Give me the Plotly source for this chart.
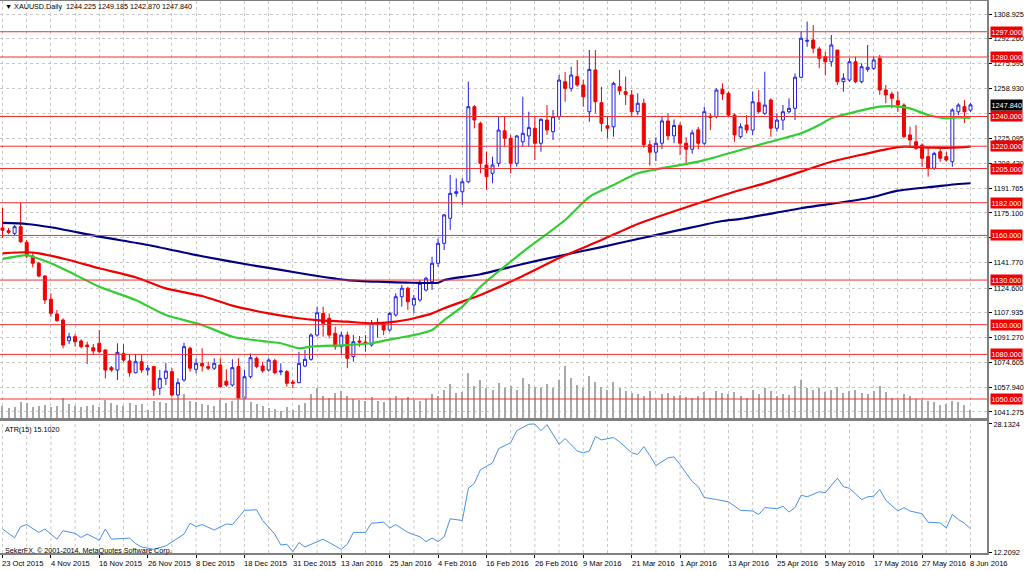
import plotly.graph_objects as go

# ---------------- DATA ----------------
date_labels = ["23 Oct 2015", "4 Nov 2015", "16 Nov 2015", "26 Nov 2015", "8 Dec 2015",
               "18 Dec 2015", "31 Dec 2015", "13 Jan 2016", "25 Jan 2016", "4 Feb 2016",
               "16 Feb 2016", "26 Feb 2016", "9 Mar 2016", "21 Mar 2016", "1 Apr 2016",
               "13 Apr 2016", "25 Apr 2016", "5 May 2016", "17 May 2016", "27 May 2016",
               "8 Jun 2016"]
label_bars = [0, 8, 16, 24, 32, 40, 48, 56, 64, 72, 80, 88, 96, 104, 112, 120, 128, 136, 144, 152, 160]

opens = [1165.0, 1163.2, 1161.4, 1165.9, 1155.4, 1146.2, 1141.3, 1132.7, 1117.1, 1107.2,
         1103.1, 1089.2, 1091.9, 1089.0, 1086.3, 1084.5, 1087.5, 1083.0, 1071.1, 1069.5,
         1080.7, 1075.6, 1067.7, 1075.1, 1069.5, 1071.8, 1057.2, 1063.9, 1068.4, 1052.7,
         1062.8, 1084.1, 1070.0, 1074.0, 1071.8, 1070.7, 1072.9, 1062.0, 1059.4, 1071.8,
         1050.5, 1065.0, 1077.4, 1072.2, 1069.5, 1075.8, 1068.2, 1068.4, 1061.4, 1061.0,
         1072.2, 1076.7, 1093.0, 1107.6, 1104.3, 1094.2, 1085.2, 1093.0, 1078.5, 1089.0,
         1088.3, 1086.3, 1100.4, 1100.9, 1096.4, 1106.5, 1118.8, 1124.5, 1113.2, 1116.6,
         1123.3, 1128.9, 1141.3, 1154.7, 1171.5, 1188.3, 1189.4, 1196.1, 1246.6, 1235.4,
         1207.4, 1201.8, 1208.5, 1230.4, 1225.3, 1208.5, 1223.0, 1226.9, 1232.1, 1222.0,
         1237.6, 1229.8, 1239.9, 1263.4, 1258.9, 1266.8, 1261.2, 1243.2, 1271.3, 1249.3,
         1233.8, 1233.1, 1260.0, 1256.7, 1254.5, 1243.2, 1248.9, 1221.0, 1216.0, 1222.0,
         1237.0, 1227.0, 1234.0, 1222.0, 1218.0, 1231.0, 1222.0, 1240.3, 1239.9, 1258.3,
         1255.6, 1241.0, 1226.4, 1234.3, 1230.9, 1249.3, 1242.1, 1251.1, 1232.1, 1237.6,
         1243.2, 1245.5, 1266.4, 1290.6, 1291.4, 1285.4, 1280.2, 1276.8, 1284.7, 1263.4,
         1264.5, 1276.8, 1263.4, 1271.7, 1272.4, 1279.1, 1257.8, 1255.1, 1250.6, 1247.7,
         1227.6, 1223.0, 1220.8, 1213.0, 1205.2, 1216.3, 1213.0, 1209.6, 1243.2, 1246.6,
         1244.225]
highs = [1178.5, 1165.0, 1167.0, 1182.0, 1157.0, 1148.0, 1142.3, 1133.4, 1121.1, 1109.9,
         1104.3, 1094.6, 1093.7, 1090.2, 1088.5, 1087.0, 1096.4, 1083.5, 1072.2, 1087.5,
         1086.8, 1080.1, 1080.1, 1080.1, 1072.9, 1072.3, 1069.5, 1074.4, 1070.7, 1063.9,
         1087.9, 1085.2, 1077.4, 1084.1, 1075.1, 1077.4, 1077.4, 1070.0, 1076.7, 1077.4,
         1069.5, 1080.7, 1078.5, 1075.1, 1077.4, 1077.0, 1074.0, 1069.5, 1062.8, 1081.8,
         1083.0, 1094.2, 1112.1, 1112.1, 1107.6, 1098.6, 1095.3, 1095.3, 1093.0, 1092.4,
         1093.0, 1103.1, 1104.3, 1102.0, 1108.7, 1121.1, 1126.7, 1125.5, 1119.9, 1130.0,
         1132.2, 1145.7, 1158.1, 1174.4, 1200.7, 1198.4, 1198.4, 1263.4, 1247.7, 1236.5,
         1216.3, 1213.0, 1239.9, 1239.9, 1227.6, 1227.6, 1253.3, 1243.2, 1239.9, 1238.8,
         1247.7, 1244.4, 1267.9, 1269.9, 1273.5, 1278.0, 1264.5, 1284.7, 1284.7, 1260.0,
         1239.9, 1263.4, 1271.3, 1266.8, 1257.8, 1255.6, 1252.0, 1224.0, 1226.0, 1240.0,
         1242.0, 1238.0, 1236.0, 1226.0, 1231.0, 1233.0, 1246.6, 1242.1, 1259.0, 1262.3,
         1256.7, 1242.1, 1235.4, 1241.0, 1256.7, 1257.8, 1270.1, 1252.2, 1242.1, 1247.7,
         1252.2, 1269.0, 1297.0, 1303.8, 1301.5, 1286.9, 1283.6, 1294.8, 1284.7, 1269.0,
         1279.1, 1280.2, 1275.8, 1288.1, 1280.2, 1281.4, 1261.2, 1256.7, 1256.7, 1248.9,
         1233.1, 1234.3, 1222.0, 1218.6, 1216.3, 1219.7, 1216.3, 1245.5, 1248.9, 1251.1,
         1249.185]
lows = [1158.3, 1161.0, 1160.3, 1155.0, 1144.8, 1138.6, 1131.8, 1113.9, 1105.4, 1102.0,
        1084.1, 1087.0, 1085.2, 1084.1, 1073.5, 1080.1, 1080.7, 1063.9, 1068.4, 1062.8,
        1075.1, 1065.0, 1067.3, 1067.7, 1066.0, 1052.0, 1052.7, 1059.4, 1051.6, 1044.8,
        1061.6, 1068.4, 1067.3, 1068.4, 1069.5, 1069.5, 1057.6, 1058.3, 1058.3, 1049.3,
        1049.8, 1063.9, 1070.7, 1067.7, 1068.4, 1066.6, 1066.0, 1058.3, 1057.2, 1060.6,
        1071.4, 1075.8, 1091.9, 1091.9, 1090.8, 1083.0, 1079.6, 1070.7, 1075.1, 1085.2,
        1081.8, 1085.2, 1091.2, 1093.0, 1095.3, 1105.4, 1112.1, 1109.9, 1107.6, 1115.4,
        1122.2, 1123.3, 1139.0, 1150.2, 1163.7, 1186.0, 1180.5, 1195.1, 1232.0, 1201.8,
        1190.6, 1195.1, 1206.2, 1219.7, 1201.8, 1206.2, 1219.7, 1219.7, 1210.7, 1216.3,
        1227.6, 1224.2, 1237.6, 1250.0, 1256.7, 1260.0, 1246.6, 1236.5, 1242.1, 1229.8,
        1225.3, 1226.4, 1254.5, 1247.7, 1239.9, 1241.0, 1219.0, 1207.0, 1210.0, 1218.0,
        1224.0, 1222.0, 1214.0, 1208.0, 1215.0, 1218.0, 1220.8, 1230.9, 1238.8, 1251.1,
        1239.9, 1223.0, 1225.3, 1228.7, 1227.6, 1242.1, 1241.0, 1226.4, 1229.8, 1230.9,
        1242.1, 1237.6, 1265.7, 1286.9, 1282.5, 1272.4, 1267.9, 1273.5, 1261.2, 1256.7,
        1263.4, 1262.3, 1262.3, 1270.1, 1271.3, 1254.5, 1248.9, 1245.5, 1243.2, 1225.3,
        1219.7, 1217.5, 1206.2, 1199.5, 1204.0, 1209.6, 1209.6, 1206.2, 1241.0, 1235.6,
        1242.870]
closes = [1163.5, 1162.1, 1165.9, 1155.8, 1146.2, 1141.3, 1132.7, 1116.6, 1107.6, 1102.7,
          1086.3, 1091.9, 1088.5, 1085.2, 1085.2, 1082.3, 1081.8, 1069.5, 1069.5, 1081.4,
          1076.2, 1067.7, 1075.1, 1069.5, 1070.7, 1056.1, 1063.9, 1068.8, 1052.7, 1061.0,
          1085.2, 1070.7, 1074.0, 1072.2, 1070.7, 1074.0, 1058.3, 1059.4, 1071.1, 1050.5,
          1065.0, 1077.8, 1071.8, 1069.0, 1076.2, 1067.7, 1068.8, 1060.6, 1060.6, 1074.0,
          1076.7, 1093.0, 1108.0, 1100.9, 1093.0, 1085.2, 1093.0, 1077.4, 1088.5, 1088.3,
          1087.5, 1100.9, 1101.1, 1096.4, 1107.6, 1118.8, 1124.5, 1115.4, 1117.7, 1127.8,
          1131.2, 1141.3, 1154.7, 1173.8, 1188.3, 1189.4, 1196.1, 1246.6, 1237.6, 1208.5,
          1199.5, 1207.4, 1230.9, 1225.3, 1208.5, 1226.9, 1228.7, 1232.5, 1222.0, 1238.1,
          1230.9, 1239.9, 1264.5, 1258.9, 1267.9, 1261.2, 1253.3, 1271.7, 1250.0, 1235.4,
          1232.1, 1262.3, 1257.3, 1254.9, 1243.2, 1248.9, 1221.0, 1216.0, 1222.0, 1237.0,
          1227.0, 1234.0, 1222.0, 1218.0, 1229.0, 1222.0, 1243.2, 1239.4, 1257.8, 1255.1,
          1241.0, 1227.6, 1233.1, 1230.9, 1249.9, 1243.2, 1247.7, 1232.1, 1237.6, 1243.2,
          1245.5, 1266.4, 1292.6, 1291.2, 1285.9, 1279.1, 1276.8, 1288.1, 1263.4, 1265.7,
          1276.8, 1263.4, 1273.5, 1273.1, 1278.0, 1257.8, 1254.5, 1252.2, 1247.7, 1226.4,
          1224.2, 1218.6, 1211.9, 1205.2, 1215.2, 1211.9, 1210.7, 1244.4, 1247.7, 1243.2,
          1247.840]

volumes = [12, 10, 11, 16, 15, 11, 12, 13, 11, 12, 20,
           14, 12, 11, 12, 13, 11, 18, 15, 13, 12,
           15, 13, 14, 8, 17, 16, 15, 19, 22, 24,
           17, 16, 14, 13, 12, 18, 15, 17, 20, 22,
           16, 14, 12, 10, 9, 7, 11, 8, 13, 15,
           24, 30, 22, 20, 25, 27, 22, 19, 18, 17,
           21, 17, 16, 20, 22, 19, 21, 18, 17, 19,
           24, 22, 28, 34, 25, 26, 45, 32, 38, 30,
           28, 35, 30, 32, 28, 40, 34, 31, 30, 34,
           30, 38, 52, 40, 33, 30, 42, 36, 31, 28,
           36, 30, 27, 25, 24, 22, 27, 18, 24, 25,
           22, 23, 21, 20, 22, 26, 20, 27, 25, 24,
           26, 22, 20, 28, 24, 30, 27, 22, 24, 23,
           32, 38, 30, 28, 30, 26, 28, 31, 25, 27,
           28, 25, 24, 27, 32, 26, 20, 18, 24, 22,
           19, 18, 17, 16, 13, 14, 17, 16, 13, 8]

# moving averages read at selected bars
ma_green_bar = [0, 4, 5, 8, 11, 16, 22, 27, 33, 38, 44, 46, 49, 51, 57, 61, 65, 68, 71, 73, 76, 78, 79,
                86, 93, 97, 101, 105, 115, 121, 126, 132, 135, 137, 140, 145, 147, 150, 153, 156, 158, 160]
ma_green_val = [1144.2, 1146.8, 1145.7, 1141.3, 1135.6, 1125.5, 1116.6, 1106.5, 1099.8, 1091.9, 1088.5,
                1087.5, 1084.1, 1085.2, 1086.3, 1087.5, 1090.8, 1093.0, 1096.4, 1103.1, 1112.1, 1121.1,
                1125.5, 1148.9, 1170.4, 1186.0, 1193.9, 1201.8, 1209.6, 1216.3, 1222.0, 1228.7, 1234.3,
                1238.8, 1242.1, 1246.6, 1247.0, 1245.5, 1241.0, 1238.8, 1239.4, 1239.0]
ma_red_bar = [0, 4, 6, 11, 16, 22, 27, 33, 38, 44, 49, 52, 57, 61, 65, 68, 71, 73, 76, 79, 86, 92, 99,
              105, 115, 121, 126, 132, 137, 143, 146, 149, 154, 157, 160]
ma_red_val = [1148.0, 1148.7, 1148.0, 1143.5, 1137.9, 1131.9, 1124.4, 1119.3, 1112.8, 1107.6, 1104.3,
              1103.1, 1102.0, 1100.9, 1102.0, 1104.3, 1107.6, 1111.0, 1115.5, 1120.0, 1132.7, 1144.8,
              1156.9, 1167.7, 1181.6, 1189.4, 1195.1, 1202.9, 1209.6, 1215.2, 1217.9, 1219.7, 1219.0,
              1219.0, 1219.8]
ma_navy_bar = [0, 4, 8, 16, 24, 33, 41, 46, 51, 57, 62, 68, 72, 73, 79, 86, 92, 99, 105, 112, 119, 122,
               132, 143, 148, 154, 158, 160]
ma_navy_val = [1168.4, 1167.7, 1165.5, 1159.2, 1153.6, 1146.0, 1140.1, 1136.8, 1133.4, 1130.0, 1128.9,
               1128.2, 1128.2, 1130.0, 1133.9, 1140.8, 1146.2, 1152.2, 1157.6, 1163.7, 1169.7, 1171.1,
               1178.3, 1185.0, 1190.1, 1192.8, 1194.6, 1195.1]

atr_bar = [0, 2, 3, 4, 6, 7, 9, 10, 12, 13, 14, 16, 17, 18, 21, 22, 23, 25, 27, 29, 30, 31, 32, 33, 35,
           37, 38, 40, 42, 43, 45, 46, 47, 48, 49, 50, 51, 53, 55, 56, 57, 58, 60, 61, 63, 64, 65, 67,
           69, 70, 71, 72, 73, 74, 76, 77, 78, 79, 81, 82, 84, 85, 87, 88, 89, 90, 92, 93, 95, 96, 97,
           98, 99, 101, 102, 104, 105, 106, 107, 108, 110, 111, 112, 114, 115, 116, 118, 120, 122, 123,
           124, 125, 126, 128, 129, 130, 131, 132, 133, 135, 136, 138, 139, 140, 142, 143, 144, 145,
           146, 148, 149, 150, 152, 153, 155, 156, 157, 158, 159, 160]
atr_val = [15.07, 13.98, 15.37, 15.62, 14.65, 15.07, 13.81, 14.86, 14.53, 14.02, 14.44, 13.68, 15.07,
           13.81, 13.94, 13.26, 12.84, 12.55, 12.97, 14.02, 14.44, 15.79, 15.37, 15.62, 14.95, 15.70,
           15.62, 17.39, 17.47, 16.13, 14.44, 13.09, 13.18, 12.25, 13.39, 12.84, 13.18, 13.81, 12.97,
           12.55, 13.18, 14.65, 14.65, 15.79, 15.92, 15.20, 15.62, 14.65, 14.10, 13.51, 13.94, 13.51,
           14.10, 16.34, 16.13, 20.13, 20.76, 22.44, 23.29, 25.06, 25.81, 27.29, 28.10, 28.13, 27.29,
           28.05, 25.60, 26.32, 24.76, 24.55, 24.76, 26.57, 26.15, 26.45, 25.90, 24.55, 24.34, 25.31,
           24.21, 22.95, 23.92, 24.04, 23.08, 20.97, 20.34, 18.99, 18.74, 18.44, 17.39, 17.31, 17.31,
           16.88, 17.73, 17.60, 17.90, 17.18, 17.73, 19.28, 19.07, 19.71, 19.58, 21.39, 20.34, 20.13,
           18.74, 19.07, 19.16, 20.00, 18.65, 17.31, 17.73, 17.31, 16.97, 15.92, 15.83, 15.20, 16.88,
           16.25, 15.79, 15.10]

levels = [1297.0, 1280.0, 1240.0, 1220.0, 1205.0, 1182.0, 1160.0, 1130.0, 1100.0, 1080.0, 1050.0]
price_ticks = [1308.925, 1292.260, 1275.595, 1258.930, 1242.265, 1225.095, 1208.430, 1191.765,
               1175.100, 1158.435, 1141.770, 1124.600, 1107.935, 1091.270, 1074.605, 1057.940, 1041.275]
hidden_ticks = [1242.265, 1158.435]   # fully covered by the level / price boxes
atr_ticks = [28.1324, 12.2092]
last_price = 1247.840
header = "\u25bc XAUUSD.Daily  1244.225 1249.185 1242.870 1247.840"
atr_title = "ATR(15) 15.1020"
copyright_text = "SekerFX, \u00a9 2001-2014, MetaQuotes Software Corp."

# ---------------- FIGURE ----------------
W, H = 1024, 571
PLOT_R = 987 / W
def py(pix):
    return (H - pix) / H

bars = list(range(len(opens)))
FONT = "Liberation Sans, Arial, sans-serif"
AXF = 7.3

fig = go.Figure()

fig.add_trace(go.Bar(x=bars, y=volumes, width=0.18, marker=dict(color="#A8A8A8", line=dict(width=0)),
                     xaxis="x", yaxis="y3", hoverinfo="skip", showlegend=False))

fig.add_trace(go.Candlestick(
    x=bars, open=opens, high=highs, low=lows, close=closes,
    increasing=dict(line=dict(color="#2020E0", width=1), fillcolor="white"),
    decreasing=dict(line=dict(color="#F00000", width=1), fillcolor="#F00000"),
    whiskerwidth=0, xaxis="x", yaxis="y", showlegend=False))

for xs, ys, col in [(ma_navy_bar, ma_navy_val, "#000080"),
                    (ma_red_bar, ma_red_val, "#F00000"),
                    (ma_green_bar, ma_green_val, "#32CD32")]:
    fig.add_trace(go.Scatter(x=xs, y=ys, mode="lines", line=dict(color=col, width=2.2, shape="spline", smoothing=0.6),
                             xaxis="x", yaxis="y", hoverinfo="skip", showlegend=False))

fig.add_trace(go.Scatter(x=atr_bar, y=atr_val, mode="lines", line=dict(color="#4A90E2", width=1),
                         xaxis="x2", yaxis="y2", hoverinfo="skip", showlegend=False))

x_range = [-0.413, 162.73]
grid_bars = list(range(0, 163, 4))
shapes = []
for lv in levels:
    shapes.append(dict(type="line", xref="paper", x0=0, x1=PLOT_R, yref="y", y0=lv, y1=lv,
                       line=dict(color="#F03030", width=1), layer="above"))

annotations = []
for lv in levels:
    annotations.append(dict(xref="paper", x=990 / W, xanchor="left", yref="y", y=lv, yanchor="middle",
                            text="%.3f" % lv, showarrow=False, bgcolor="#F00000", borderpad=0.5,
                            font=dict(family=FONT, size=AXF, color="white")))
annotations.append(dict(xref="paper", x=990 / W, xanchor="left", yref="y", y=last_price, yanchor="middle",
                        text="%.3f" % last_price, showarrow=False, bgcolor="black", borderpad=0.5,
                        font=dict(family=FONT, size=AXF, color="white")))
for b, t in zip(label_bars, date_labels):
    annotations.append(dict(xref="x2", x=b - 0.35, xanchor="left", yref="paper", y=py(563), yanchor="middle",
                            text=t, showarrow=False, font=dict(family=FONT, size=7.6, color="black")))
annotations.append(dict(xref="paper", x=3 / W, xanchor="left", yref="paper", y=py(7), yanchor="middle",
                        text=header, showarrow=False, font=dict(family=FONT, size=7.2, color="black")))
annotations.append(dict(xref="paper", x=3 / W, xanchor="left", yref="paper", y=py(430), yanchor="middle",
                        text=atr_title, showarrow=False, font=dict(family=FONT, size=7.2, color="black")))
annotations.append(dict(xref="paper", x=3 / W, xanchor="left", yref="paper", y=py(550), yanchor="middle",
                        text=copyright_text, showarrow=False, font=dict(family=FONT, size=7.2, color="black")))

grid = dict(showgrid=True, gridcolor="#C8C8C8", griddash="dot", gridwidth=1)
fig.update_layout(
    width=W, height=H, margin=dict(l=0, r=0, t=0, b=0, autoexpand=False),
    paper_bgcolor="white", plot_bgcolor="white",
    font=dict(family=FONT, size=8, color="black"),
    showlegend=False, barmode="overlay", bargap=0,
    xaxis=dict(domain=[0, PLOT_R], range=x_range, anchor="y", tickmode="array", tickvals=grid_bars,
               showticklabels=False, ticks="", rangeslider=dict(visible=False), zeroline=False,
               showline=True, linecolor="#808080", linewidth=2, mirror=True, **grid),
    xaxis2=dict(domain=[0, PLOT_R], range=x_range, anchor="y2", matches="x", tickmode="array",
                tickvals=label_bars, showticklabels=False, ticks="outside", ticklen=3, tickcolor="black",
                zeroline=False, showline=True, linecolor="#808080", linewidth=2, mirror=True,
                showgrid=False),
    yaxis=dict(domain=[py(418), py(1)], range=[1037.23, 1317.67], side="right", anchor="x",
               tickmode="array", tickvals=price_ticks,
               ticktext=["" if v in hidden_ticks else "%.3f" % v for v in price_ticks],
               ticks="outside", ticklen=3, tickcolor="black", zeroline=False,
               showline=True, linecolor="#808080", linewidth=2, mirror=True,
               tickfont=dict(family=FONT, size=AXF), automargin=False, **grid),
    yaxis2=dict(domain=[py(553), py(421)], range=[12.09, 28.50], side="right", anchor="x2",
                tickmode="array", tickvals=atr_ticks, ticktext=["%.4f" % v for v in atr_ticks],
                ticks="outside", ticklen=3, tickcolor="black", zeroline=False, showgrid=False,
                showline=True, linecolor="#808080", linewidth=2, mirror=True,
                tickfont=dict(family=FONT, size=AXF), automargin=False),
    yaxis3=dict(domain=[py(418), py(1)], range=[0, 417], overlaying="y", anchor="x", visible=False),
    shapes=shapes, annotations=annotations,
)

# ATR window vertical grid (every 4 bars), drawn from the bar positions
for gb in grid_bars:
    fig.add_shape(type="line", xref="x2", x0=gb, x1=gb, yref="y2 domain", y0=0, y1=1,
                  line=dict(color="#C8C8C8", width=1, dash="dot"), layer="below")

fig.write_html("out.html", config={"displayModeBar": False},
               post_script="document.body.style.margin='0';document.body.style.overflow='hidden';")
